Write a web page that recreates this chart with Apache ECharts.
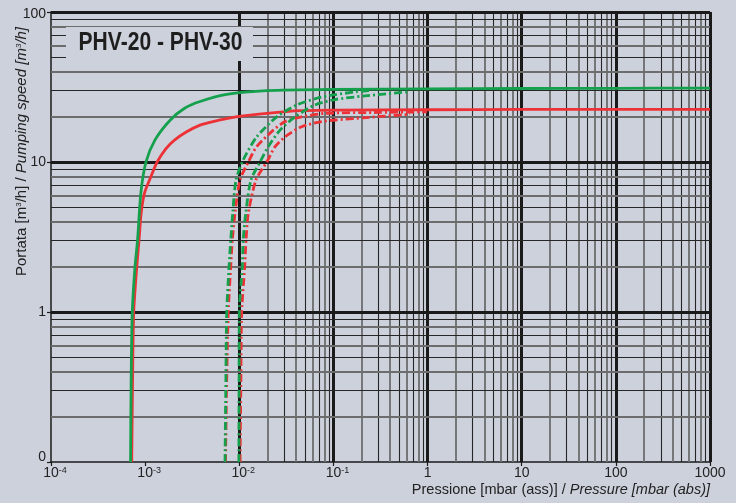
<!DOCTYPE html>
<html><head><meta charset="utf-8">
<script src="https://cdn.jsdelivr.net/npm/echarts@6/dist/echarts.min.js"></script>
<style>html,body{margin:0;padding:0;background:#cdd1dc;}#c{width:736px;height:503px;}</style>
</head><body><div id="c"></div>
<script>
// ---- data (pressure in mbar, pumping speed in m3/h) ----
const xDecades = [1e-4, 1e-3, 1e-2, 1e-1, 1, 10, 100, 1000];
const yDecades = [0.1, 1, 10, 100];
const yTickLabels = ['0', '1', '10', '100'];

const greenSolidP = [7.0e-4, 7.1e-4, 7.3e-4, 7.8e-4, 8.3e-4, 9.0e-4, 1.02e-3, 1.27e-3, 1.84e-3, 2.65e-3, 3.83e-3, 7.35e-3, 0.0196, 0.1, 1, 10, 100, 1000];
const greenSolidS = [0.1, 0.35, 1.0, 2.0, 3.0, 6.2, 10, 14, 19, 22.9, 25.3, 28.2, 29.9, 30.5, 30.7, 30.9, 31, 31.1];

const redSolidP = [7.2e-4, 7.35e-4, 7.56e-4, 8.15e-4, 8.61e-4, 9.05e-4, 9.84e-4, 1.154e-3, 1.34e-3, 1.665e-3, 2.05e-3, 2.76e-3, 3.83e-3, 5.26e-3, 9.2e-3, 0.0196, 0.044, 0.1, 1, 10, 100, 1000];
const redSolidS = [0.1, 0.35, 1.0, 2.0, 3.0, 4.5, 6.2, 8.0, 10, 12.3, 14, 15.9, 17.6, 18.6, 20, 21.1, 22, 22.2, 22.3, 22.4, 22.4, 22.4];

const greenDashAP = [7.05e-3, 7.2e-3, 7.35e-3, 7.78e-3, 8.11e-3, 8.51e-3, 9.23e-3, 0.0110, 0.0153, 0.0250, 0.0407, 0.0665, 0.1, 0.177, 0.25];
const greenDashAS = [0.1, 0.35, 1.0, 2.0, 3.0, 4.55, 7.59, 10.3, 14.7, 20, 24, 26.6, 28, 29.4, 30];

const greenDashBP = [0.0099, 0.00995, 0.0100, 0.01076, 0.0110, 0.0117, 0.0133, 0.0166, 0.0203, 0.0271, 0.0391, 0.0637, 0.104, 0.206, 0.62];
const greenDashBS = [0.1, 0.35, 1.0, 2.0, 3.0, 4.55, 7.59, 10, 12.65, 16.3, 20, 24, 26.1, 27.5, 29.4];

const redDashAP = [7.14e-3, 7.35e-3, 7.64e-3, 8.11e-3, 8.43e-3, 9.01e-3, 0.01018, 0.01247, 0.0153, 0.0230, 0.0306, 0.046, 0.0814, 0.312, 0.986];
const redDashAS = [0.1, 0.35, 1.0, 2.0, 3.0, 4.55, 7.59, 10, 12.65, 16.3, 18.6, 20, 21.1, 21.4, 21.6];

const redDashBP = [0.0102, 0.0104, 0.0106, 0.01142, 0.01179, 0.01247, 0.01505, 0.0196, 0.0240, 0.0306, 0.046, 0.0751, 0.104, 0.206, 0.651];
const redDashBS = [0.1, 0.35, 1.0, 2.0, 3.0, 4.55, 7.59, 10, 12.65, 14.7, 17.2, 18.6, 19.05, 19.7, 20.8];

// ---- styling ----
const BG = '#cdd1dc';
const GREEN = '#14a04c';
const RED = '#ec3236';
const FONT = '"Liberation Sans", Arial, sans-serif';
const DASHDOT = [8, 3, 2, 3];

const zip = (a, b) => a.map((v, i) => [v, b[i]]);

// grid lines built from decades
function gridLines(decades, axisKey) {
  const out = [];
  for (let i = 0; i < decades.length; i++) {
    const d = decades[i];
    if (i > 0) out.push({ [axisKey]: d, lineStyle: { color: '#1a1a1a', width: 3, type: 'solid' } });
    if (i < decades.length - 1) {
      for (let m = 2; m <= 9; m++) {
        const even = m % 2 === 0;
        out.push({ [axisKey]: m * d, lineStyle: even ? { color: '#6c6c6c', width: 1.8, type: 'solid' } : { color: '#262626', width: 1.1, type: 'solid' } });
      }
    }
  }
  return out;
}

function curve(P, S, color, dashed) {
  return {
    type: 'line', data: zip(P, S), symbol: 'none', showSymbol: false,
    smooth: 0.25, z: 5, silent: true,
    lineStyle: { color: color, width: 2.8, type: dashed ? DASHDOT : 'solid', cap: 'butt', join: 'round' },
    emphasis: { disabled: true }
  };
}

const chart = echarts.init(document.getElementById('c'), null, { renderer: 'canvas' });
chart.setOption({
  backgroundColor: BG,
  animation: false,
  grid: { left: 51, right: 26, top: 12, bottom: 41, containLabel: false },
  xAxis: {
    type: 'log', logBase: 10, min: xDecades[0], max: xDecades[xDecades.length - 1], splitNumber: 7,
    splitLine: { show: false }, minorSplitLine: { show: false },
    axisLine: { show: true, lineStyle: { color: '#1a1a1a', width: 1.5 } },
    axisTick: { show: true, inside: false, length: 4, lineStyle: { color: '#1a1a1a', width: 1.2 } },
    axisLabel: {
      margin: 4, color: '#222',
      formatter: function (v) {
        const e = Math.round(Math.log10(v));
        if (e < 0) return '{b|10}{s|-' + (-e) + '}';
        return '{n|' + Math.round(Math.pow(10, e)) + '}';
      },
      rich: {
        b: { fontSize: 14, fontFamily: FONT, color: '#222', padding: [0, 0, 0, 8] },
        s: { fontSize: 9, fontFamily: FONT, color: '#222', verticalAlign: 'top' },
        n: { fontSize: 14, fontFamily: FONT, color: '#222' }
      }
    }
  },
  yAxis: {
    type: 'log', logBase: 10, min: yDecades[0], max: yDecades[yDecades.length - 1], splitNumber: 3,
    splitLine: { show: false }, minorSplitLine: { show: false },
    axisLine: { show: true, lineStyle: { color: '#1a1a1a', width: 1.5 } },
    axisTick: { show: true, inside: false, length: 4, lineStyle: { color: '#1a1a1a', width: 1.2 } },
    axisLabel: {
      margin: 5, color: '#222',
      formatter: function (v) {
        const e = Math.round(Math.log10(v));
        const idx = yDecades.findIndex(d => Math.round(Math.log10(d)) === e);
        const t = idx >= 0 ? yTickLabels[idx] : '';
        if (e === -1) return '{z|' + t + '}';
        if (e === 2) return '{t|' + t + '}';
        return '{n|' + t + '}';
      },
      rich: {
        n: { fontSize: 14, fontFamily: FONT, color: '#222' },
        z: { fontSize: 14, fontFamily: FONT, color: '#222', padding: [0, 0, 10, 0] },
        t: { fontSize: 14, fontFamily: FONT, color: '#222', padding: [4, 0, 0, 0] }
      }
    }
  },
  series: [
    {
      type: 'line', data: [], z: 1, silent: true,
      markLine: {
        silent: true, animation: false, symbol: ['none', 'none'],
        label: { show: false }, emphasis: { disabled: true },
        data: gridLines(xDecades, 'xAxis').concat(gridLines(yDecades, 'yAxis'))
      }
    },
    curve(redSolidP, redSolidS, RED, false),
    curve(redDashAP, redDashAS, RED, true),
    curve(redDashBP, redDashBS, RED, true),
    curve(greenSolidP, greenSolidS, GREEN, false),
    curve(greenDashAP, greenDashAS, GREEN, true),
    curve(greenDashBP, greenDashBS, GREEN, true)
  ],
  graphic: [
    { type: 'rect', z: 50, silent: true, shape: { x: 66, y: 27, width: 187, height: 34 }, style: { fill: BG } },
    { type: 'text', z: 51, silent: true, x: 160.5, y: 43, scaleX: 0.81,
      style: { text: 'PHV-20 - PHV-30', font: 'bold 26px ' + FONT, fill: '#1e1e1e', align: 'center', verticalAlign: 'middle', textAlign: 'center', textVerticalAlign: 'middle' } },
    { type: 'text', z: 51, silent: true, x: 22, y: 151.5, rotation: Math.PI / 2,
      style: {
        text: '{n|Portata [m}{ns|3}{n|/h] / }{i|Pumping speed [m}{is|3}{i|/h]}',
        align: 'center', verticalAlign: 'middle', textAlign: 'center', textVerticalAlign: 'middle',
        rich: {
          n: { fontSize: 15, fontFamily: FONT, fill: '#222', color: '#222' },
          ns: { fontSize: 8, fontFamily: FONT, fill: '#222', color: '#222', verticalAlign: 'top' },
          i: { fontSize: 15, fontFamily: FONT, fontStyle: 'italic', fill: '#222', color: '#222' },
          is: { fontSize: 8, fontFamily: FONT, fontStyle: 'italic', fill: '#222', color: '#222', verticalAlign: 'top' }
        }
      } },
    { type: 'text', z: 51, silent: true, x: 710, y: 490,
      style: {
        text: '{n|Pressione [mbar (ass)] / }{i|Pressure [mbar (abs)]}',
        align: 'right', verticalAlign: 'middle', textAlign: 'right', textVerticalAlign: 'middle',
        rich: {
          n: { fontSize: 14.5, fontFamily: FONT, fill: '#222', color: '#222' },
          i: { fontSize: 14.5, fontFamily: FONT, fontStyle: 'italic', fill: '#222', color: '#222' }
        }
      } }
  ]
});
</script></body></html>
